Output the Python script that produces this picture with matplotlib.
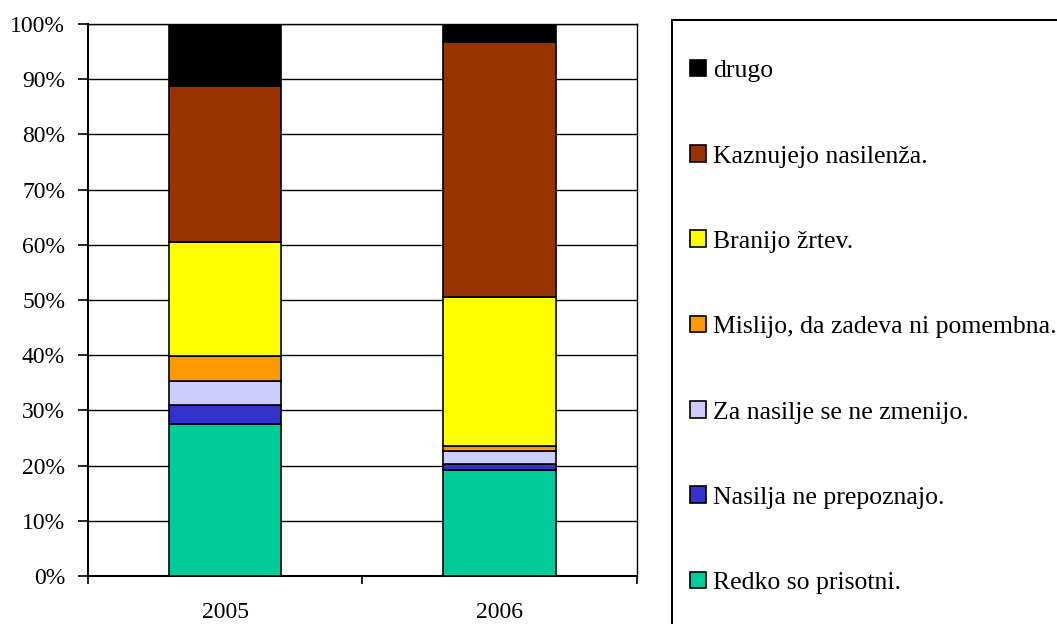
import numpy as np
import matplotlib.pyplot as plt
from matplotlib.patches import Rectangle
from matplotlib.ticker import PercentFormatter

# Data (percent of respondents), stacked bottom -> top
years = ["2005", "2006"]
categories = [
    "Redko so prisotni.",
    "Nasilja ne prepoznajo.",
    "Za nasilje se ne zmenijo.",
    "Mislijo, da zadeva ni pomembna.",
    "Branijo žrtev.",
    "Kaznujejo nasilenža.",
    "drugo",
]
values_2005 = [27.6, 3.3, 4.5, 4.4, 20.7, 28.3, 11.2]
values_2006 = [19.2, 1.1, 2.3, 1.0, 27.0, 46.1, 3.3]
colors = ["#00CC99", "#3333CC", "#CCCCFF", "#FF9900", "#FFFF00", "#993300", "#000000"]

plt.rcParams["font.family"] = ["Liberation Serif", "DejaVu Serif"]
FS = 18.5

fig = plt.figure(figsize=(10.57, 6.24), dpi=100)
W, H = 1057, 624
ax = fig.add_axes([88 / W, (H - 576) / H, (636.5 - 88) / W, (576 - 24) / H])

data = np.array([values_2005, values_2006])
totals = data.sum(axis=1, keepdims=True)
pct = data / totals * 100

x = np.arange(len(years))
bottom = np.zeros(len(years))
handles = []
for i, cat in enumerate(categories):
    h = ax.bar(x, pct[:, i], width=0.41, bottom=bottom, color=colors[i],
               edgecolor="black", linewidth=1.2, label=cat, zorder=3)
    handles.append(h)
    bottom += pct[:, i]

ax.set_xlim(-0.5, 1.5)
ax.set_ylim(0, 100)
ax.set_yticks(np.arange(0, 101, 10))
ax.yaxis.set_major_formatter(PercentFormatter(decimals=0))
ax.yaxis.grid(True, color="black", linewidth=1.0, zorder=0)

# category boundaries as major ticks, labels on minor ticks
ax.set_xticks([-0.5, 0.5, 1.5])
ax.set_xticklabels([])
ax.set_xticks(x, minor=True)
ax.set_xticklabels(years, minor=True)
ax.tick_params(axis="x", which="major", direction="out", length=6, width=1.2)
ax.tick_params(axis="x", which="minor", length=0, pad=19, labelsize=17)
ax.tick_params(axis="y", direction="out", length=7.5, width=1.2, pad=9, labelsize=17)

for side in ["left", "bottom"]:
    ax.spines[side].set_linewidth(1.5)
for side in ["top", "right"]:
    ax.spines[side].set_linewidth(1.0)

# legend box (runs past the figure edge)
fig.patches.append(Rectangle((672 / W, -0.1), 1.0, (H - 20.5) / H + 0.1,
                             transform=fig.transFigure, fill=False,
                             edgecolor="black", linewidth=1.5))

fig.legend(handles[::-1], categories[::-1], loc="upper left",
           bbox_to_anchor=(677 / W, 1 - 47 / H), frameon=False,
           fontsize=FS, borderpad=0, handlelength=0.62, handleheight=0.62,
           handletextpad=0.28, labelspacing=2.45)

fig.savefig("out.png", dpi=100)
